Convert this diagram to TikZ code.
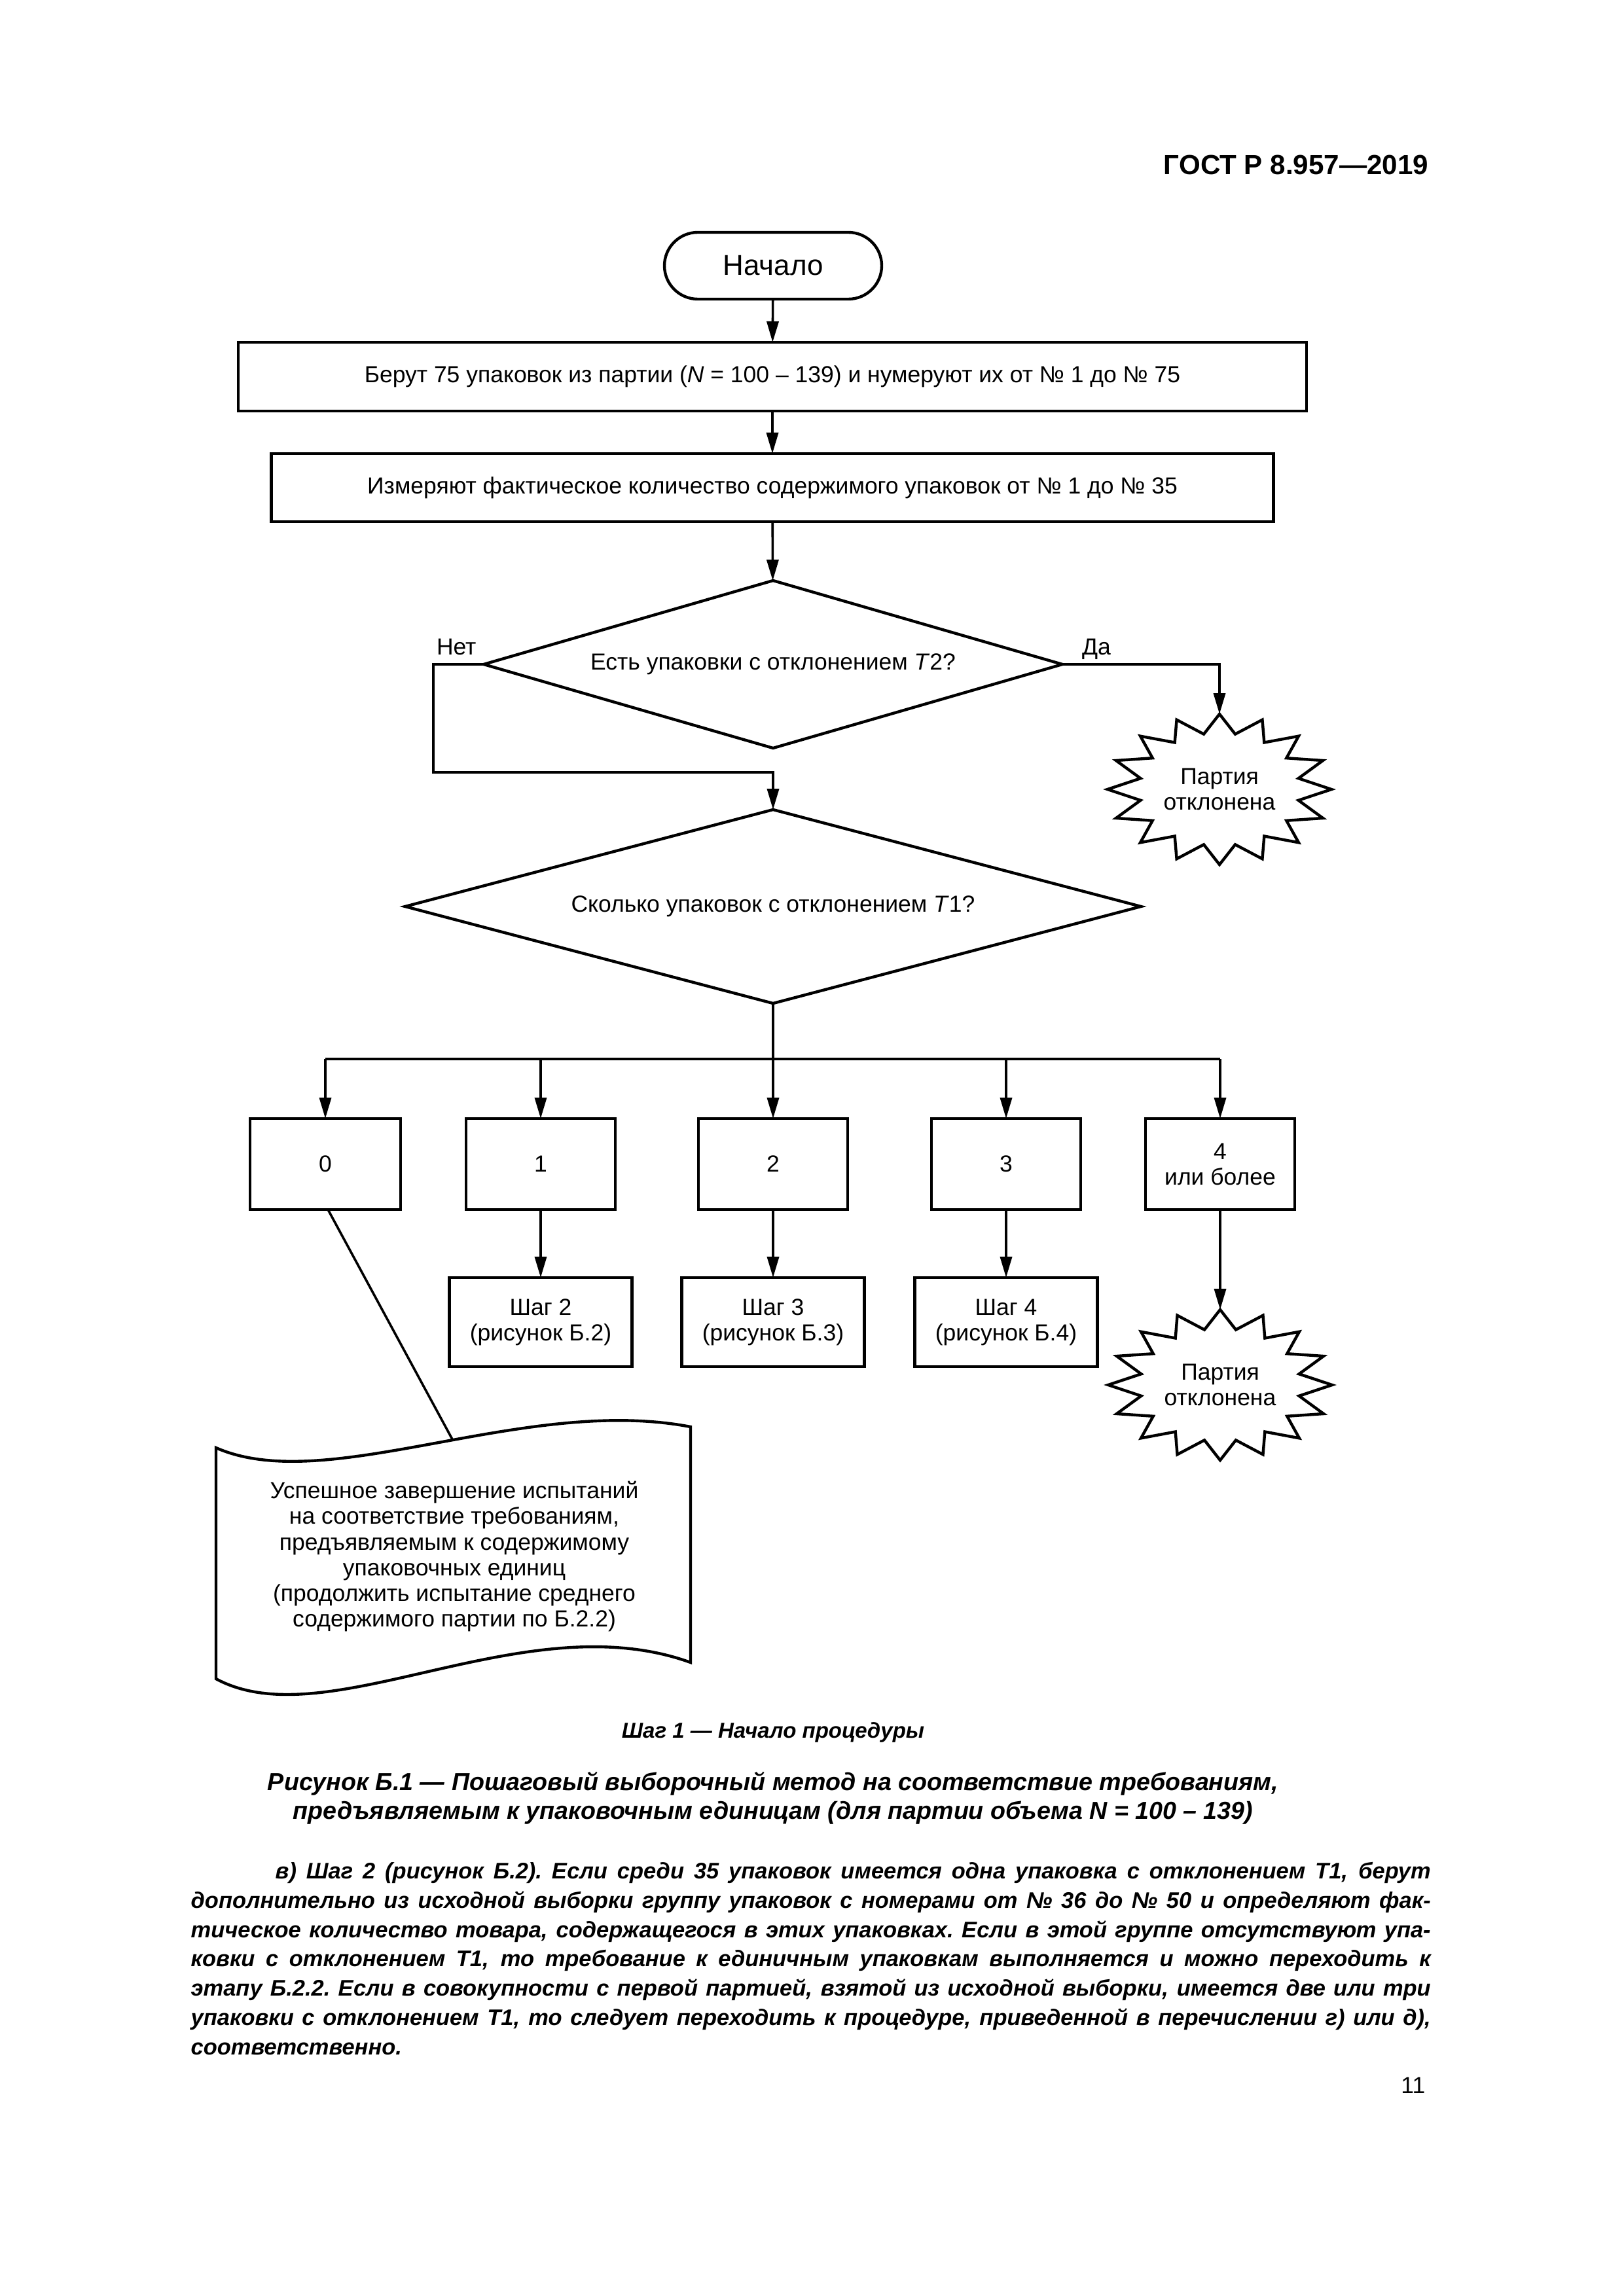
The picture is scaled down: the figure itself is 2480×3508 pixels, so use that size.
\documentclass[tikz,border=0pt]{standalone}
\usepackage{fontspec}
\setmainfont{Liberation Sans}
\usetikzlibrary{arrows.meta,shapes.geometric,calc}
\newcommand\myboxfont{\fontsize{10.1}{11.1}\selectfont}
\newcommand\mytermfont{\fontsize{12.5}{14}\selectfont}
\newcommand\myheadfont{\fontsize{12}{13}\selectfont\bfseries}
\newcommand\mysubcapfont{\fontsize{9.4}{11}\selectfont\bfseries\itshape}
\newcommand\myfigcapfont{\fontsize{10.7}{12.5}\selectfont\bfseries\itshape}
\newcommand\myparafont{\fontsize{9.8}{12.8}\selectfont\bfseries\itshape}
\tikzset{
  shp/.style={draw, line width=0.44mm, inner sep=0pt, outer sep=0pt, align=center, font=\myboxfont},
  procbox/.style={shp, rectangle},
  term/.style={shp, rectangle, rounded corners=5.1mm, font=\mytermfont},
  dec/.style={shp, diamond},
  conn/.style={line width=0.36mm},
  arr/.style={conn, -{Triangle[length=3.2mm,width=1.8mm]}},
  lbl/.style={inner sep=0pt, outer sep=0pt, align=center, font=\myboxfont},
  outline/.style={line width=0.44mm, line join=miter},
}
\begin{document}
\begin{tikzpicture}[x=0.1mm,y=-0.1mm]
\useasboundingbox (0,0) rectangle (2480,3508);
% header
\node[anchor=base east, inner sep=0pt, font=\myheadfont] (head) at (2183,267) {ГОСТ Р 8.957—2019};
% flowchart nodes
\node[term, minimum width=33.2mm, minimum height=10.2mm] (start) at (1181,406) {Начало};
\node[procbox, minimum width=163.2mm, minimum height=10.5mm] (take) at (1180,575.5)
  {Берут 75 упаковок из партии (\textit{N} = 100 – 139) и нумеруют их от № 1 до № 75};
\node[procbox, minimum width=153.1mm, minimum height=10.4mm] (meas) at (1180,745)
  {Измеряют фактическое количество содержимого упаковок от № 1 до № 35};
\node[dec, aspect=3.45, minimum width=88.4mm, minimum height=25.6mm] (d1) at (1181,1015)
  {Есть упаковки с отклонением \textit{T}2?};
\node[dec, aspect=3.8, minimum width=112.4mm, minimum height=29.6mm] (d2) at (1181,1385)
  {Сколько упаковок с отклонением \textit{T}1?};
\node[lbl, anchor=base west] (no) at (667,1000) {Нет};
\node[lbl, anchor=base west] (yes) at (1653,1000) {Да};
% star bursts
\begin{scope}[shift={(1863,1206)}]
  \draw[outline] (270:171 and 115) \foreach \k in {0,...,15}{ -- ({270+22.5*\k+11.25}:123 and 86) -- ({270+22.5*(\k+1)}:171 and 115)} -- cycle;
\end{scope}
\coordinate (rej1top) at (1863,1091);
\node[lbl] (rej1) at (1863,1206) {Партия\\отклонена};
\begin{scope}[shift={(1864,2116)}]
  \draw[outline] (270:171 and 115) \foreach \k in {0,...,15}{ -- ({270+22.5*\k+11.25}:123 and 86) -- ({270+22.5*(\k+1)}:171 and 115)} -- cycle;
\end{scope}
\coordinate (rej2top) at (1864,2001);
\node[lbl] (rej2) at (1864,2116) {Партия\\отклонена};
% count boxes
\node[procbox, minimum width=23mm, minimum height=13.9mm] (zero) at (497,1778.5) {0};
\node[procbox, minimum width=22.8mm, minimum height=13.9mm] (one) at (826,1778.5) {1};
\node[procbox, minimum width=22.8mm, minimum height=13.9mm] (two) at (1181,1778.5) {2};
\node[procbox, minimum width=22.8mm, minimum height=13.9mm] (three) at (1537,1778.5) {3};
\node[procbox, minimum width=22.8mm, minimum height=13.9mm] (four) at (1864,1778.5) {4\\или более};
% step boxes
\node[procbox, minimum width=27.9mm, minimum height=13.6mm] (s2) at (826,2020) {Шаг 2\\(рисунок Б.2)};
\node[procbox, minimum width=27.9mm, minimum height=13.6mm] (s3) at (1181,2020) {Шаг 3\\(рисунок Б.3)};
\node[procbox, minimum width=27.9mm, minimum height=13.6mm] (s4) at (1537,2020) {Шаг 4\\(рисунок Б.4)};
% document (tape) shape
\draw[outline] (330,2212) .. controls (500,2287) and (800,2131) .. (1055,2180) coordinate[pos=0.54] (docin)
  -- (1055,2540) .. controls (800,2448) and (500,2657) .. (330,2565) -- cycle;
\node[lbl] (doc) at (694,2378) {Успешное завершение испытаний\\на соответствие требованиям,\\предъявляемым к содержимому\\упаковочных единиц\\(продолжить испытание среднего\\содержимого партии по Б.2.2)};
% bus coordinates
\coordinate (b0) at (497,1618);
\coordinate (b1) at (826,1618);
\coordinate (b2) at (1181,1618);
\coordinate (b3) at (1537,1618);
\coordinate (b4) at (1864,1618);
\coordinate (nocorner) at (662,1180);
% connectors
\draw[arr] (start) -- (take);
\draw[arr] (take) -- (meas);
\draw[arr] (meas) -- (d1);
\draw[arr] (d1.east) -| (rej1top);
\draw[arr] (d1.west) -| (nocorner) -| (d2.north);
\draw[conn] (d2.south) -- (b2);
\draw[conn, line width=0.44mm] (b0) -- (b4);
\draw[arr] (b0) -- (zero);
\draw[arr] (b1) -- (one);
\draw[arr] (b2) -- (two);
\draw[arr] (b3) -- (three);
\draw[arr] (b4) -- (four);
\draw[arr] (one) -- (s2);
\draw[arr] (two) -- (s3);
\draw[arr] (three) -- (s4);
\draw[arr] (four.south) -- (rej2top);
\draw[conn] ([xshift=0.4mm]zero.south) -- (docin);
% captions
\node[anchor=base, inner sep=0pt, font=\mysubcapfont] (subcap) at (1181,2655) {Шаг 1 — Начало процедуры};
\node[anchor=base, inner sep=0pt, align=center, font=\myfigcapfont] (figcap) at (1181,2779)
  {Рисунок Б.1 — Пошаговый выборочный метод на соответствие требованиям,\\предъявляемым к упаковочным единицам (для партии объема N = 100 – 139)};
% paragraph
\node[anchor=base west, inner sep=0pt, text width=189.4mm, font=\myparafont] (para) at (291,2870) {%
\spaceskip=0.278em plus 1em minus 0.06em\relax\xspaceskip=\spaceskip
\noindent\hspace*{12.9mm}\makebox[176.5mm][s]{в) Шаг 2 (рисунок Б.2). Если среди 35 упаковок имеется одна упаковка с отклонением T1, берут}\\
\makebox[189.4mm][s]{дополнительно из исходной выборки группу упаковок с номерами от № 36 до № 50 и определяют фак-}\\
\makebox[189.4mm][s]{тическое количество товара, содержащегося в этих упаковках. Если в этой группе отсутствуют упа-}\\
\makebox[189.4mm][s]{ковки с отклонением T1, то требование к единичным упаковкам выполняется и можно переходить к}\\
\makebox[189.4mm][s]{этапу Б.2.2. Если в совокупности с первой партией, взятой из исходной выборки, имеется две или три}\\
\makebox[189.4mm][s]{упаковки с отклонением T1, то следует переходить к процедуре, приведенной в перечислении г) или д),}\\
соответственно.};
% page number
\node[anchor=base east, inner sep=0pt, font=\myboxfont] (pagenum) at (2178,3198) {11};
\end{tikzpicture}
\end{document}
